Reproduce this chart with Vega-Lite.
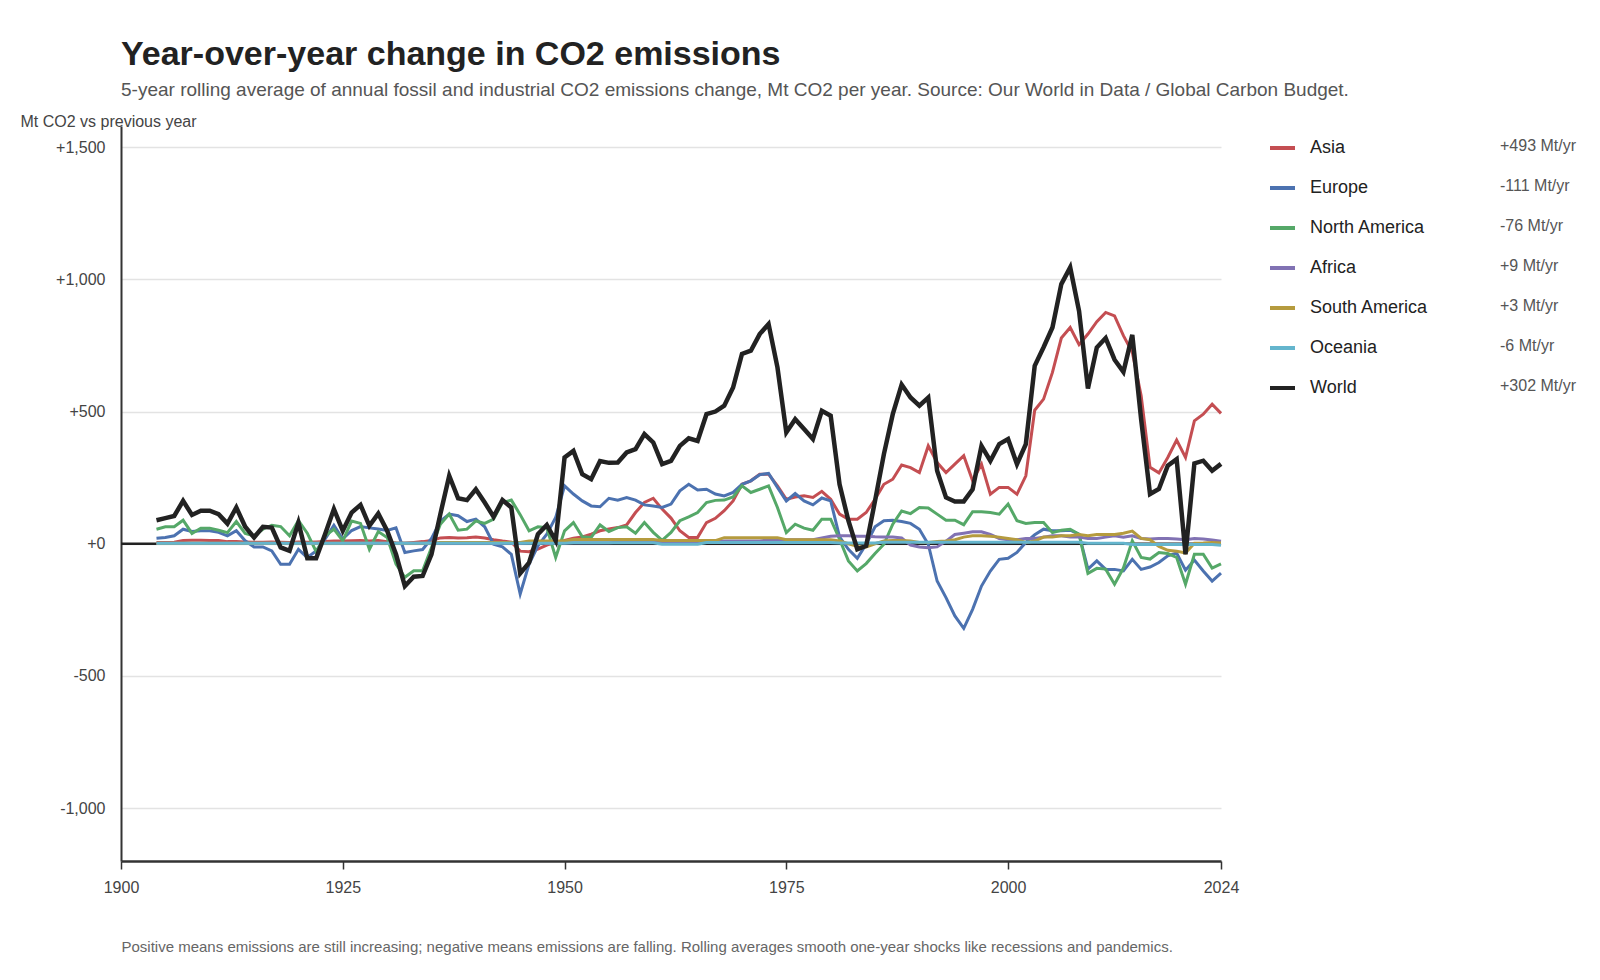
{
  "$schema": "https://vega.github.io/schema/vega-lite/v6.json",
  "width": 1100,
  "height": 735,
  "autosize": {"type": "none"},
  "padding": {"left": 121, "top": 126, "right": 379, "bottom": 119},
  "background": "white",
  "config": {
    "font": "Liberation Sans",
    "view": {"stroke": null}
  },
  "title": {
    "text": "Year-over-year change in CO2 emissions",
    "subtitle": "5-year rolling average of annual fossil and industrial CO2 emissions change, Mt CO2 per year. Source: Our World in Data / Global Carbon Budget.",
    "anchor": "start",
    "frame": "group",
    "offset": 13,
    "fontSize": 34,
    "fontWeight": "bold",
    "color": "#222222",
    "subtitleFontSize": 19,
    "subtitleColor": "#555555",
    "subtitlePadding": 9
  },
  "layer": [
    {
      "data": {"values": [{}]},
      "mark": {"type": "rule", "color": "#222222", "strokeWidth": 2.5},
      "encoding": {"y": {"datum": 0, "type": "quantitative"}}
    },
    {
      "data": {
        "values": [
          {"year": 1904, "Asia": 5, "Europe": 21, "North America": 55, "Africa": 1, "South America": 2, "Oceania": 2, "World": 89},
          {"year": 1905, "Asia": 5, "Europe": 24, "North America": 64, "Africa": 1, "South America": 2, "Oceania": 2, "World": 97},
          {"year": 1906, "Asia": 6, "Europe": 30, "North America": 64, "Africa": 1, "South America": 2, "Oceania": 2, "World": 105},
          {"year": 1907, "Asia": 12, "Europe": 55, "North America": 89, "Africa": 1, "South America": 2, "Oceania": 2, "World": 162},
          {"year": 1908, "Asia": 13, "Europe": 46, "North America": 39, "Africa": 1, "South America": 2, "Oceania": 2, "World": 109},
          {"year": 1909, "Asia": 13, "Europe": 49, "North America": 59, "Africa": 1, "South America": 2, "Oceania": 2, "World": 125},
          {"year": 1910, "Asia": 12, "Europe": 49, "North America": 59, "Africa": 1, "South America": 2, "Oceania": 2, "World": 125},
          {"year": 1911, "Asia": 12, "Europe": 43, "North America": 51, "Africa": 1, "South America": 2, "Oceania": 2, "World": 112},
          {"year": 1912, "Asia": 8, "Europe": 30, "North America": 42, "Africa": 1, "South America": 2, "Oceania": 2, "World": 76},
          {"year": 1913, "Asia": 8, "Europe": 49, "North America": 84, "Africa": 1, "South America": 2, "Oceania": 2, "World": 137},
          {"year": 1914, "Asia": 7, "Europe": 11, "North America": 39, "Africa": 1, "South America": 2, "Oceania": 2, "World": 64},
          {"year": 1915, "Asia": 6, "Europe": -12, "North America": 30, "Africa": 1, "South America": 2, "Oceania": 2, "World": 24},
          {"year": 1916, "Asia": 6, "Europe": -12, "North America": 55, "Africa": 1, "South America": 2, "Oceania": 2, "World": 64},
          {"year": 1917, "Asia": 7, "Europe": -27, "North America": 70, "Africa": 1, "South America": 2, "Oceania": 2, "World": 61},
          {"year": 1918, "Asia": 6, "Europe": -78, "North America": 65, "Africa": 1, "South America": 2, "Oceania": 2, "World": -14},
          {"year": 1919, "Asia": 5, "Europe": -78, "North America": 30, "Africa": 1, "South America": 2, "Oceania": 2, "World": -27},
          {"year": 1920, "Asia": 7, "Europe": -21, "North America": 88, "Africa": 1, "South America": 2, "Oceania": 2, "World": 80},
          {"year": 1921, "Asia": 6, "Europe": -52, "North America": 40, "Africa": 1, "South America": 2, "Oceania": 2, "World": -55},
          {"year": 1922, "Asia": 7, "Europe": -27, "North America": -30, "Africa": 1, "South America": 2, "Oceania": 2, "World": -55},
          {"year": 1923, "Asia": 8, "Europe": 17, "North America": 30, "Africa": 1, "South America": 2, "Oceania": 2, "World": 36},
          {"year": 1924, "Asia": 10, "Europe": 70, "North America": 55, "Africa": 1, "South America": 2, "Oceania": 2, "World": 131},
          {"year": 1925, "Asia": 10, "Europe": 18, "North America": 11, "Africa": 1, "South America": 2, "Oceania": 2, "World": 49},
          {"year": 1926, "Asia": 11, "Europe": 50, "North America": 86, "Africa": 2, "South America": 2, "Oceania": 2, "World": 118},
          {"year": 1927, "Asia": 12, "Europe": 65, "North America": 77, "Africa": 2, "South America": 2, "Oceania": 2, "World": 147},
          {"year": 1928, "Asia": 10, "Europe": 60, "North America": -21, "Africa": 2, "South America": 2, "Oceania": 2, "World": 68},
          {"year": 1929, "Asia": 12, "Europe": 56, "North America": 46, "Africa": 2, "South America": 2, "Oceania": 2, "World": 114},
          {"year": 1930, "Asia": 8, "Europe": 50, "North America": 24, "Africa": 2, "South America": 2, "Oceania": 2, "World": 49},
          {"year": 1931, "Asia": 3, "Europe": 60, "North America": -77, "Africa": 2, "South America": 2, "Oceania": 2, "World": -40},
          {"year": 1932, "Asia": 2, "Europe": -33, "North America": -127, "Africa": 2, "South America": 2, "Oceania": 2, "World": -160},
          {"year": 1933, "Asia": 5, "Europe": -27, "North America": -102, "Africa": 2, "South America": 2, "Oceania": 2, "World": -125},
          {"year": 1934, "Asia": 8, "Europe": -22, "North America": -102, "Africa": 2, "South America": 2, "Oceania": 2, "World": -122},
          {"year": 1935, "Asia": 12, "Europe": 20, "North America": -14, "Africa": 2, "South America": 2, "Oceania": 2, "World": -40},
          {"year": 1936, "Asia": 22, "Europe": 85, "North America": 74, "Africa": 2, "South America": 5, "Oceania": 2, "World": 112},
          {"year": 1937, "Asia": 24, "Europe": 112, "North America": 112, "Africa": 2, "South America": 5, "Oceania": 2, "World": 257},
          {"year": 1938, "Asia": 22, "Europe": 106, "North America": 51, "Africa": 2, "South America": 5, "Oceania": 2, "World": 172},
          {"year": 1939, "Asia": 23, "Europe": 84, "North America": 55, "Africa": 2, "South America": 5, "Oceania": 2, "World": 165},
          {"year": 1940, "Asia": 25, "Europe": 93, "North America": 86, "Africa": 2, "South America": 5, "Oceania": 2, "World": 206},
          {"year": 1941, "Asia": 22, "Europe": 64, "North America": 77, "Africa": 2, "South America": 5, "Oceania": 2, "World": 156},
          {"year": 1942, "Asia": 15, "Europe": -2, "North America": 93, "Africa": 2, "South America": 5, "Oceania": 2, "World": 102},
          {"year": 1943, "Asia": 10, "Europe": -12, "North America": 156, "Africa": 2, "South America": 5, "Oceania": 2, "World": 165},
          {"year": 1944, "Asia": 6, "Europe": -40, "North America": 165, "Africa": 2, "South America": 5, "Oceania": 2, "World": 137},
          {"year": 1945, "Asia": -28, "Europe": -190, "North America": 110, "Africa": 2, "South America": 5, "Oceania": 2, "World": -112},
          {"year": 1946, "Asia": -30, "Europe": -77, "North America": 49, "Africa": 4, "South America": 10, "Oceania": 2, "World": -72},
          {"year": 1947, "Asia": -20, "Europe": -8, "North America": 64, "Africa": 4, "South America": 10, "Oceania": 2, "World": 36},
          {"year": 1948, "Asia": -5, "Europe": 36, "North America": 61, "Africa": 4, "South America": 10, "Oceania": 2, "World": 71},
          {"year": 1949, "Asia": 5, "Europe": 99, "North America": -52, "Africa": 4, "South America": 10, "Oceania": 2, "World": 11},
          {"year": 1950, "Asia": 12, "Europe": 219, "North America": 49, "Africa": 4, "South America": 10, "Oceania": 2, "World": 326},
          {"year": 1951, "Asia": 21, "Europe": 188, "North America": 80, "Africa": 4, "South America": 16, "Oceania": 4, "World": 351},
          {"year": 1952, "Asia": 26, "Europe": 162, "North America": 26, "Africa": 4, "South America": 16, "Oceania": 4, "World": 263},
          {"year": 1953, "Asia": 36, "Europe": 143, "North America": 24, "Africa": 4, "South America": 16, "Oceania": 4, "World": 244},
          {"year": 1954, "Asia": 49, "Europe": 140, "North America": 71, "Africa": 4, "South America": 16, "Oceania": 4, "World": 313},
          {"year": 1955, "Asia": 56, "Europe": 172, "North America": 46, "Africa": 4, "South America": 16, "Oceania": 4, "World": 306},
          {"year": 1956, "Asia": 61, "Europe": 165, "North America": 61, "Africa": 6, "South America": 16, "Oceania": 4, "World": 307},
          {"year": 1957, "Asia": 71, "Europe": 175, "North America": 64, "Africa": 6, "South America": 16, "Oceania": 4, "World": 345},
          {"year": 1958, "Asia": 118, "Europe": 165, "North America": 40, "Africa": 6, "South America": 16, "Oceania": 4, "World": 358},
          {"year": 1959, "Asia": 156, "Europe": 147, "North America": 80, "Africa": 6, "South America": 16, "Oceania": 4, "World": 415},
          {"year": 1960, "Asia": 172, "Europe": 143, "North America": 43, "Africa": 6, "South America": 16, "Oceania": 4, "World": 383},
          {"year": 1961, "Asia": 131, "Europe": 137, "North America": 13, "Africa": 6, "South America": 12, "Oceania": -2, "World": 301},
          {"year": 1962, "Asia": 97, "Europe": 150, "North America": 43, "Africa": 6, "South America": 12, "Oceania": -2, "World": 313},
          {"year": 1963, "Asia": 49, "Europe": 200, "North America": 87, "Africa": 6, "South America": 12, "Oceania": -2, "World": 370},
          {"year": 1964, "Asia": 24, "Europe": 225, "North America": 102, "Africa": 6, "South America": 12, "Oceania": -2, "World": 399},
          {"year": 1965, "Asia": 24, "Europe": 203, "North America": 118, "Africa": 6, "South America": 12, "Oceania": -2, "World": 389},
          {"year": 1966, "Asia": 80, "Europe": 206, "North America": 156, "Africa": 10, "South America": 12, "Oceania": 5, "World": 490},
          {"year": 1967, "Asia": 96, "Europe": 188, "North America": 164, "Africa": 10, "South America": 12, "Oceania": 5, "World": 500},
          {"year": 1968, "Asia": 125, "Europe": 181, "North America": 165, "Africa": 10, "South America": 23, "Oceania": 5, "World": 522},
          {"year": 1969, "Asia": 162, "Europe": 194, "North America": 177, "Africa": 10, "South America": 23, "Oceania": 5, "World": 591},
          {"year": 1970, "Asia": 225, "Europe": 225, "North America": 219, "Africa": 10, "South America": 23, "Oceania": 5, "World": 718},
          {"year": 1971, "Asia": 238, "Europe": 238, "North America": 194, "Africa": 10, "South America": 23, "Oceania": 5, "World": 730},
          {"year": 1972, "Asia": 263, "Europe": 261, "North America": 206, "Africa": 10, "South America": 23, "Oceania": 5, "World": 793},
          {"year": 1973, "Asia": 263, "Europe": 266, "North America": 219, "Africa": 15, "South America": 23, "Oceania": 5, "World": 831},
          {"year": 1974, "Asia": 219, "Europe": 213, "North America": 137, "Africa": 15, "South America": 23, "Oceania": 5, "World": 667},
          {"year": 1975, "Asia": 168, "Europe": 162, "North America": 42, "Africa": 15, "South America": 15, "Oceania": 5, "World": 421},
          {"year": 1976, "Asia": 177, "Europe": 190, "North America": 74, "Africa": 15, "South America": 15, "Oceania": 5, "World": 471},
          {"year": 1977, "Asia": 181, "Europe": 162, "North America": 59, "Africa": 15, "South America": 15, "Oceania": 5, "World": 434},
          {"year": 1978, "Asia": 175, "Europe": 147, "North America": 51, "Africa": 15, "South America": 15, "Oceania": 5, "World": 396},
          {"year": 1979, "Asia": 198, "Europe": 173, "North America": 93, "Africa": 22, "South America": 15, "Oceania": 5, "World": 503},
          {"year": 1980, "Asia": 168, "Europe": 162, "North America": 93, "Africa": 28, "South America": 15, "Oceania": 5, "World": 484},
          {"year": 1981, "Asia": 112, "Europe": 26, "North America": 17, "Africa": 30, "South America": 10, "Oceania": 3, "World": 225},
          {"year": 1982, "Asia": 93, "Europe": -21, "North America": -65, "Africa": 30, "South America": 0, "Oceania": 3, "World": 87},
          {"year": 1983, "Asia": 93, "Europe": -55, "North America": -103, "Africa": 28, "South America": -10, "Oceania": 3, "World": -21},
          {"year": 1984, "Asia": 118, "Europe": -2, "North America": -75, "Africa": 28, "South America": -12, "Oceania": 3, "World": -8},
          {"year": 1985, "Asia": 168, "Europe": 64, "North America": -37, "Africa": 26, "South America": 0, "Oceania": 3, "World": 162},
          {"year": 1986, "Asia": 225, "Europe": 87, "North America": -2, "Africa": 25, "South America": 10, "Oceania": 6, "World": 339},
          {"year": 1987, "Asia": 244, "Europe": 89, "North America": 74, "Africa": 25, "South America": 12, "Oceania": 6, "World": 490},
          {"year": 1988, "Asia": 298, "Europe": 84, "North America": 124, "Africa": 22, "South America": 12, "Oceania": 6, "World": 602},
          {"year": 1989, "Asia": 288, "Europe": 77, "North America": 114, "Africa": -5, "South America": 10, "Oceania": 6, "World": 553},
          {"year": 1990, "Asia": 269, "Europe": 55, "North America": 137, "Africa": -12, "South America": 5, "Oceania": 6, "World": 522},
          {"year": 1991, "Asia": 370, "Europe": -2, "North America": 135, "Africa": -15, "South America": 5, "Oceania": 6, "World": 553},
          {"year": 1992, "Asia": 307, "Europe": -141, "North America": 112, "Africa": -12, "South America": 8, "Oceania": 6, "World": 276},
          {"year": 1993, "Asia": 269, "Europe": -204, "North America": 89, "Africa": 10, "South America": 10, "Oceania": 6, "World": 175},
          {"year": 1994, "Asia": 301, "Europe": -273, "North America": 89, "Africa": 35, "South America": 15, "Oceania": 6, "World": 160},
          {"year": 1995, "Asia": 333, "Europe": -320, "North America": 72, "Africa": 40, "South America": 25, "Oceania": 6, "World": 160},
          {"year": 1996, "Asia": 238, "Europe": -248, "North America": 121, "Africa": 45, "South America": 30, "Oceania": 6, "World": 206},
          {"year": 1997, "Asia": 301, "Europe": -160, "North America": 121, "Africa": 45, "South America": 30, "Oceania": 6, "World": 370},
          {"year": 1998, "Asia": 187, "Europe": -103, "North America": 118, "Africa": 35, "South America": 28, "Oceania": 6, "World": 313},
          {"year": 1999, "Asia": 213, "Europe": -59, "North America": 112, "Africa": 20, "South America": 25, "Oceania": 6, "World": 377},
          {"year": 2000, "Asia": 213, "Europe": -55, "North America": 150, "Africa": 15, "South America": 20, "Oceania": 6, "World": 396},
          {"year": 2001, "Asia": 187, "Europe": -33, "North America": 87, "Africa": 15, "South America": 15, "Oceania": 6, "World": 301},
          {"year": 2002, "Asia": 257, "Europe": 5, "North America": 77, "Africa": 20, "South America": 5, "Oceania": 6, "World": 377},
          {"year": 2003, "Asia": 505, "Europe": 34, "North America": 80, "Africa": 20, "South America": 10, "Oceania": 6, "World": 673},
          {"year": 2004, "Asia": 547, "Europe": 55, "North America": 80, "Africa": 25, "South America": 25, "Oceania": 6, "World": 743},
          {"year": 2005, "Asia": 648, "Europe": 49, "North America": 42, "Africa": 30, "South America": 25, "Oceania": 6, "World": 818},
          {"year": 2006, "Asia": 778, "Europe": 49, "North America": 51, "Africa": 30, "South America": 30, "Oceania": 6, "World": 982},
          {"year": 2007, "Asia": 818, "Europe": 51, "North America": 55, "Africa": 25, "South America": 30, "Oceania": 6, "World": 1045},
          {"year": 2008, "Asia": 753, "Europe": 36, "North America": 36, "Africa": 25, "South America": 35, "Oceania": 6, "World": 880},
          {"year": 2009, "Asia": 793, "Europe": -96, "North America": -112, "Africa": 20, "South America": 30, "Oceania": 2, "World": 587},
          {"year": 2010, "Asia": 840, "Europe": -65, "North America": -93, "Africa": 20, "South America": 35, "Oceania": 2, "World": 742},
          {"year": 2011, "Asia": 875, "Europe": -97, "North America": -96, "Africa": 25, "South America": 35, "Oceania": 2, "World": 778},
          {"year": 2012, "Asia": 862, "Europe": -97, "North America": -153, "Africa": 30, "South America": 35, "Oceania": 2, "World": 696},
          {"year": 2013, "Asia": 787, "Europe": -103, "North America": -92, "Africa": 25, "South America": 40, "Oceania": 2, "World": 650},
          {"year": 2014, "Asia": 724, "Europe": -59, "North America": 11, "Africa": 30, "South America": 48, "Oceania": -3, "World": 790},
          {"year": 2015, "Asia": 560, "Europe": -97, "North America": -52, "Africa": 20, "South America": 20, "Oceania": -3, "World": 470},
          {"year": 2016, "Asia": 289, "Europe": -88, "North America": -58, "Africa": 18, "South America": 15, "Oceania": -3, "World": 188},
          {"year": 2017, "Asia": 268, "Europe": -71, "North America": -33, "Africa": 20, "South America": -10, "Oceania": -3, "World": 207},
          {"year": 2018, "Asia": 326, "Europe": -46, "North America": -37, "Africa": 20, "South America": -25, "Oceania": -3, "World": 295},
          {"year": 2019, "Asia": 392, "Europe": -35, "North America": -52, "Africa": 18, "South America": -28, "Oceania": -3, "World": 320},
          {"year": 2020, "Asia": 326, "Europe": -100, "North America": -153, "Africa": 15, "South America": -35, "Oceania": -3, "World": -40},
          {"year": 2021, "Asia": 465, "Europe": -62, "North America": -40, "Africa": 20, "South America": 2, "Oceania": -3, "World": 304},
          {"year": 2022, "Asia": 490, "Europe": -103, "North America": -40, "Africa": 18, "South America": 3, "Oceania": -3, "World": 314},
          {"year": 2023, "Asia": 528, "Europe": -141, "North America": -92, "Africa": 14, "South America": 5, "Oceania": -3, "World": 276},
          {"year": 2024, "Asia": 493, "Europe": -111, "North America": -76, "Africa": 9, "South America": 3, "Oceania": -6, "World": 302}
        ]
      },
      "transform": [
        {"fold": ["Asia", "Europe", "North America", "Africa", "South America", "Oceania", "World"], "as": ["region", "change"]},
        {"joinaggregate": [{"op": "argmax", "field": "year", "as": "last"}], "groupby": ["region"]},
        {"calculate": "(datum.last.change >= 0 ? '+' : '-') + format(abs(datum.last.change), 'd') + ' Mt/yr'", "as": "latest"},
        {"calculate": "indexof(['Asia', 'Europe', 'North America', 'Africa', 'South America', 'Oceania', 'World'], datum.region)", "as": "order"}
      ],
      "encoding": {
        "x": {
          "field": "year",
          "type": "quantitative",
          "scale": {"domain": [1900, 2024], "nice": false, "zero": false},
          "axis": {
            "values": [1900, 1925, 1950, 1975, 2000, 2024],
            "format": "d",
            "grid": false,
            "domainColor": "#333333",
            "domainWidth": 2.5,
            "tickColor": "#333333",
            "tickWidth": 1.5,
            "tickSize": 8,
            "labelPadding": 10,
            "labelFontSize": 16,
            "labelColor": "#444444",
            "labelFlush": false,
            "title": "Positive means emissions are still increasing; negative means emissions are falling. Rolling averages smooth one-year shocks like recessions and pandemics.",
            "titleX": 0,
            "titleY": 85,
            "titleAlign": "left",
            "titleAnchor": "start",
            "titleBaseline": "middle",
            "titleFontSize": 15,
            "titleFontWeight": "normal",
            "titleColor": "#666666"
          }
        },
        "y": {
          "field": "change",
          "type": "quantitative",
          "scale": {"domain": [-1200, 1580], "nice": false, "zero": false},
          "axis": {
            "values": [-1000, -500, 0, 500, 1000, 1500],
            "labelExpr": "(datum.value >= 0 ? '+' : '-') + format(abs(datum.value), ',')",
            "grid": true,
            "gridColor": "#e3e3e3",
            "gridWidth": 1.5,
            "domainColor": "#333333",
            "domainWidth": 2,
            "ticks": false,
            "tickSize": 0,
            "labelPadding": 16,
            "labelFontSize": 16,
            "labelColor": "#444444",
            "title": "Mt CO2 vs previous year",
            "titleAngle": 0,
            "titleAlign": "left",
            "titleBaseline": "middle",
            "titleX": -101,
            "titleY": -5,
            "titleFontSize": 16,
            "titleFontWeight": "normal",
            "titleColor": "#444444"
          }
        },
        "color": {
          "field": "region",
          "type": "nominal",
          "scale": {
            "domain": ["Asia", "Europe", "North America", "Africa", "South America", "Oceania", "World"],
            "range": ["#C44E52", "#4C72B0", "#55A868", "#8172B3", "#B59B3E", "#64B5CD", "#222222"]
          },
          "legend": {
            "orient": "none",
            "legendX": 1147,
            "legendY": 2,
            "title": null,
            "padding": 0,
            "symbolType": "stroke",
            "symbolSize": 625,
            "symbolStrokeWidth": 4,
            "labelFontSize": 18,
            "labelColor": "#222222",
            "labelOffset": 13,
            "clipHeight": 40,
            "rowPadding": 0
          }
        },
        "opacity": {
          "field": "latest",
          "type": "ordinal",
          "sort": {"field": "order", "op": "min"},
          "scale": {"range": [1, 1]},
          "legend": {
            "orient": "none",
            "legendX": 1363,
            "legendY": 0,
            "title": null,
            "padding": 0,
            "symbolSize": 0,
            "symbolFillColor": "transparent",
            "symbolStrokeColor": "transparent",
            "symbolStrokeWidth": 0,
            "labelFontSize": 16,
            "labelColor": "#555555",
            "labelOffset": 0,
            "clipHeight": 40,
            "rowPadding": 0
          }
        }
      },
      "layer": [
        {
          "transform": [{"filter": "datum.region !== 'World'"}],
          "mark": {"type": "line", "strokeWidth": 3}
        },
        {
          "transform": [{"filter": "datum.region === 'World'"}],
          "mark": {"type": "line", "strokeWidth": 4.5}
        }
      ]
    }
  ]
}
